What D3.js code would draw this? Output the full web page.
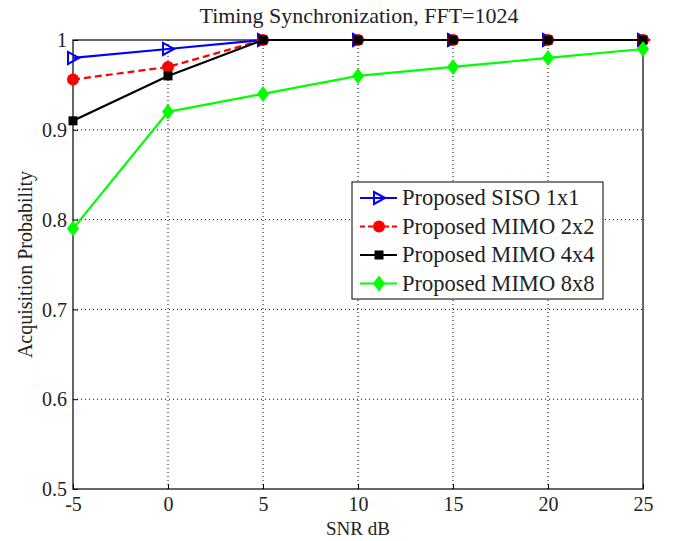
<!DOCTYPE html>
<html>
<head>
<meta charset="utf-8">
<script src="https://cdn.jsdelivr.net/npm/d3@7"></script>
<style>
  body { margin: 0; background: #fff; }
  text { font-family: "Liberation Serif", "Times New Roman", serif; fill: #222; }
</style>
</head>
<body>
<div id="myPlot"></div>
<script>
// Data
const snr = [-5, 0, 5, 10, 15, 20, 25];
const siso1x1 = [0.98, 0.99, 1, 1, 1, 1, 1];
const mimo2x2 = [0.956, 0.97, 1, 1, 1, 1, 1];
const mimo4x4 = [0.91, 0.96, 1, 1, 1, 1, 1];
const mimo8x8 = [0.79, 0.92, 0.94, 0.96, 0.97, 0.98, 0.99];
const xTicks = [-5, 0, 5, 10, 15, 20, 25];
const yTicks = [0.5, 0.6, 0.7, 0.8, 0.9, 1];

const series = [
    { name: "Proposed SISO 1x1", values: siso1x1, color: "#0000ff", marker: "tri", dash: null },
    { name: "Proposed MIMO 2x2", values: mimo2x2, color: "#ff0000", marker: "circle", dash: "7,4" },
    { name: "Proposed MIMO 4x4", values: mimo4x4, color: "#000000", marker: "square", dash: null },
    { name: "Proposed MIMO 8x8", values: mimo8x8, color: "#00ff00", marker: "diamond", dash: null }
];

// Set Dimensions
const width = 678, height = 541;
const mLeft = 73, mRight = 643, mTop = 40, mBottom = 489;

const svg = d3.select("#myPlot")
    .append("svg")
    .attr("width", width)
    .attr("height", height);

const x = d3.scaleLinear().domain([-5, 25]).range([mLeft, mRight]);
const y = d3.scaleLinear().domain([0.5, 1]).range([mBottom, mTop]);

// Grid
svg.append("g")
    .selectAll("line")
    .data(xTicks.slice(1, -1))
    .enter().append("line")
    .attr("x1", d => x(d)).attr("x2", d => x(d))
    .attr("y1", mTop).attr("y2", mBottom)
    .attr("stroke", "#000").attr("stroke-width", 1)
    .attr("stroke-dasharray", "1,3");

svg.append("g")
    .selectAll("line")
    .data(yTicks.slice(1, -1))
    .enter().append("line")
    .attr("x1", mLeft).attr("x2", mRight)
    .attr("y1", d => y(d)).attr("y2", d => y(d))
    .attr("stroke", "#000").attr("stroke-width", 1)
    .attr("stroke-dasharray", "1,3");

// Axes
const xAxis = svg.append("g")
    .attr("transform", "translate(0," + mBottom + ")")
    .call(d3.axisBottom(x).tickValues(xTicks).tickSize(-5).tickPadding(8).tickFormat(d => String(d)));
const yAxis = svg.append("g")
    .attr("transform", "translate(" + mLeft + ",0)")
    .call(d3.axisLeft(y).tickValues(yTicks).tickSize(-5).tickPadding(6).tickFormat(d => d === 1 ? "1" : d3.format(".1f")(d)));

[xAxis, yAxis].forEach(g => {
    g.select(".domain").remove();
    g.selectAll("line").attr("stroke", "#000");
    g.selectAll("text").attr("font-size", 20).attr("fill", "#222")
        .style("font-family", "'Liberation Serif', serif");
});
yAxis.selectAll("text").attr("dy", "0.33em");

// Box
svg.append("rect")
    .attr("x", mLeft).attr("y", mTop)
    .attr("width", mRight - mLeft).attr("height", mBottom - mTop)
    .attr("fill", "none").attr("stroke", "#000").attr("stroke-width", 1.2);

// Lines
const line = d3.line()
    .x((d, i) => x(snr[i]))
    .y(d => y(d));

function drawMarker(g, type, cx, cy, color) {
    if (type === "circle") {
        g.append("circle").attr("cx", cx).attr("cy", cy).attr("r", 6).attr("fill", color);
    } else if (type === "square") {
        g.append("rect").attr("x", cx - 4.5).attr("y", cy - 4.5).attr("width", 9).attr("height", 9).attr("fill", color);
    } else if (type === "diamond") {
        g.append("path").attr("d", `M${cx},${cy - 8}L${cx + 6},${cy}L${cx},${cy + 8}L${cx - 6},${cy}Z`).attr("fill", color);
    } else if (type === "tri") {
        g.append("path").attr("d", `M${cx + 6},${cy}L${cx - 5},${cy - 6}L${cx - 5},${cy + 6}Z`)
            .attr("fill", "none").attr("stroke", color).attr("stroke-width", 2);
    }
}

series.forEach(s => {
    svg.append("path")
        .datum(s.values)
        .attr("d", line)
        .attr("fill", "none")
        .attr("stroke", s.color)
        .attr("stroke-width", 2.2)
        .attr("stroke-dasharray", s.dash);
    const g = svg.append("g");
    s.values.forEach((v, i) => drawMarker(g, s.marker, x(snr[i]), y(v), s.color));
});

// Legend
const lg = svg.append("g");
lg.append("rect")
    .attr("x", 352).attr("y", 182).attr("width", 251).attr("height", 117)
    .attr("fill", "#fff").attr("stroke", "#000").attr("stroke-width", 1);
series.forEach((s, i) => {
    const ly = 198 + i * 28.5;
    lg.append("line")
        .attr("x1", 360).attr("x2", 397).attr("y1", ly).attr("y2", ly)
        .attr("stroke", s.color).attr("stroke-width", 2.2)
        .attr("stroke-dasharray", s.dash ? "5,3" : null);
    drawMarker(lg, s.marker, 379, ly, s.color);
    lg.append("text")
        .attr("x", 402).attr("y", ly + 7)
        .attr("font-size", 22.5)
        .text(s.name);
});

// Titles
svg.append("text")
    .attr("x", 359).attr("y", 23)
    .attr("text-anchor", "middle").attr("font-size", 22)
    .text("Timing Synchronization, FFT=1024");

svg.append("text")
    .attr("x", 358).attr("y", 535)
    .attr("text-anchor", "middle").attr("font-size", 19)
    .text("SNR dB");

svg.append("text")
    .attr("transform", "translate(32," + ((mTop + mBottom) / 2) + ") rotate(-90)")
    .attr("text-anchor", "middle").attr("font-size", 20)
    .text("Acquisition Probability");
</script>
</body>
</html>
